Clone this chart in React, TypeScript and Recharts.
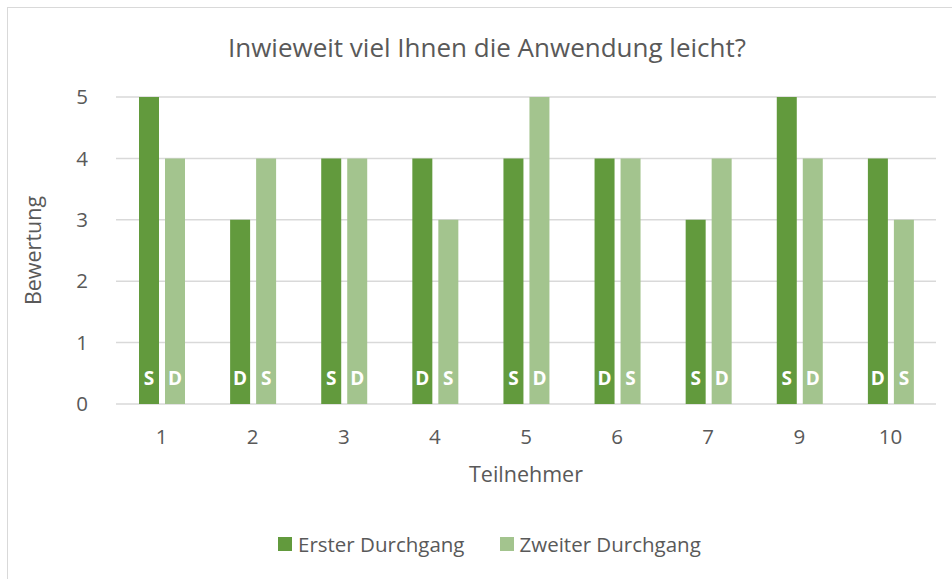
import React from "react";
import {
  BarChart,
  Bar,
  XAxis,
  YAxis,
  CartesianGrid,
  LabelList,
  Label,
} from "recharts";

const teilnehmer = ["1", "2", "3", "4", "5", "6", "7", "9", "10"];
const ersterDurchgang = [5, 3, 4, 4, 4, 4, 3, 5, 4];
const zweiterDurchgang = [4, 4, 4, 3, 5, 4, 4, 4, 3];
const ersterTyp = ["S", "D", "S", "D", "S", "D", "S", "S", "D"];
const zweiterTyp = ["D", "S", "D", "S", "D", "S", "D", "D", "S"];
const yTicks = [0, 1, 2, 3, 4, 5];

const DARK = "#629a3d";
const LIGHT = "#a3c48e";
const TEXT = "#595959";
const FONT = "'Open Sans', sans-serif";

const data = teilnehmer.map((t, i) => ({
  name: t,
  erster: ersterDurchgang[i],
  zweiter: zweiterDurchgang[i],
  typ1: ersterTyp[i],
  typ2: zweiterTyp[i],
}));

const renderTyp = (props: any) => {
  const { x, y, width, height, value } = props;
  return (
    <text
      x={Number(x) + Number(width) / 2}
      y={Number(y) + Number(height) - 19}
      textAnchor="middle"
      fill="#ffffff"
      fontWeight="bold"
      fontSize={19}
      fontFamily={FONT}
    >
      {value}
    </text>
  );
};

export default function App() {
  return (
    <div
      style={{
        position: "fixed",
        inset: 0,
        overflow: "hidden",
        background: "#fff",
      }}
    >
      <div
        style={{
          position: "absolute",
          left: 7,
          top: 7,
          width: 980,
          height: 620,
          border: "1.5px solid #d9d9d9",
        }}
      />
      <div style={{ position: "absolute", left: 0, top: 0 }}>
        <BarChart
          width={952}
          height={579}
          data={data}
          margin={{ top: 97, right: 16, left: 0, bottom: 0 }}
          barSize={20}
          barGap={6}
        >
          <text
            x={487}
            y={57}
            textAnchor="middle"
            fill={TEXT}
            fontSize={26}
            fontFamily={FONT}
          >
            Inwieweit viel Ihnen die Anwendung leicht?
          </text>
          <CartesianGrid vertical={false} stroke="#d9d9d9" strokeWidth={1.5} />
          <XAxis
            dataKey="name"
            height={175}
            axisLine={false}
            tickLine={false}
            tick={{ fill: TEXT, fontSize: 20.5, fontFamily: FONT }}
            tickMargin={19}
          >
            <Label
              value="Teilnehmer"
              position="insideTop"
              offset={63}
              fill={TEXT}
              fontSize={21.5}
              fontFamily={FONT}
            />
          </XAxis>
          <YAxis
            width={116}
            domain={[0, 5]}
            ticks={yTicks}
            axisLine={false}
            tickLine={false}
            tick={{ fill: TEXT, fontSize: 20.5, fontFamily: FONT }}
            tickMargin={22}
          >
            <Label
              value="Bewertung"
              angle={-90}
              position="insideLeft"
              offset={33}
              style={{ textAnchor: "middle" }}
              fill={TEXT}
              fontSize={21.5}
              fontFamily={FONT}
            />
          </YAxis>
          <Bar dataKey="erster" name="Erster Durchgang" fill={DARK} isAnimationActive={false}>
            <LabelList dataKey="typ1" content={renderTyp} />
          </Bar>
          <Bar dataKey="zweiter" name="Zweiter Durchgang" fill={LIGHT} isAnimationActive={false}>
            <LabelList dataKey="typ2" content={renderTyp} />
          </Bar>
        </BarChart>
      </div>
      <div
        style={{
          position: "absolute",
          left: 278,
          top: 530,
          display: "flex",
          alignItems: "center",
          fontFamily: FONT,
          fontSize: 20.5,
          color: TEXT,
        }}
      >
        <span style={{ width: 14, height: 14, background: DARK, marginRight: 6 }} />
        <span style={{ marginRight: 35 }}>Erster Durchgang</span>
        <span style={{ width: 14, height: 14, background: LIGHT, marginRight: 6 }} />
        <span>Zweiter Durchgang</span>
      </div>
    </div>
  );
}
